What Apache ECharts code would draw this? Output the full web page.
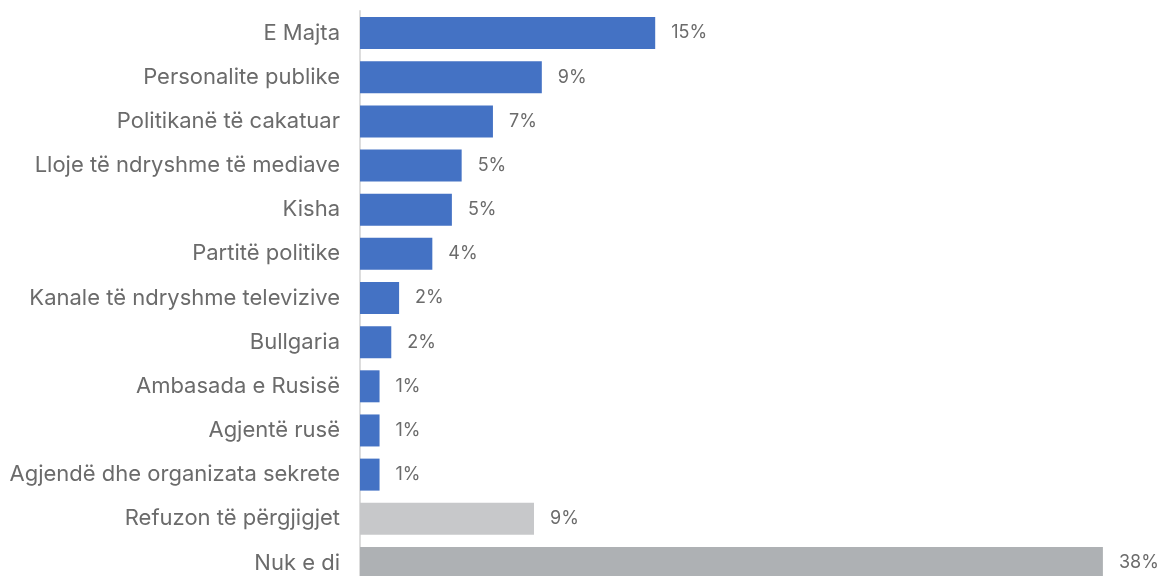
<!DOCTYPE html>
<html><head><meta charset="utf-8">
<script src="https://cdn.jsdelivr.net/npm/echarts@6/dist/echarts.min.js"></script>
<style>html,body{margin:0;padding:0;background:#fff}#c{width:1157px;height:576px}</style>
</head><body><div id="c"></div>
<script>
const categories = ["E Majta","Personalite publike","Politikanë të cakatuar","Lloje të ndryshme të mediave","Kisha","Partitë politike","Kanale të ndryshme televizive","Bullgaria","Ambasada e Rusisë","Agjentë rusë","Agjendë dhe organizata sekrete","Refuzon të përgjigjet","Nuk e di"];
const values = [15.1, 9.3, 6.8, 5.2, 4.7, 3.7, 2.0, 1.6, 1.0, 1.0, 1.0, 8.9, 38.0];
const barColors = ["#4472C4","#4472C4","#4472C4","#4472C4","#4472C4","#4472C4","#4472C4","#4472C4","#4472C4","#4472C4","#4472C4","#C7C8CA","#AEB1B4"];

const chart = echarts.init(document.getElementById('c'));
chart.setOption({
  animation: false,
  grid: {left: 360, width: 782, top: 11, height: 574, containLabel: false, outerBoundsMode: 'none'},
  xAxis: {type: 'value', min: 0, max: 40, show: false},
  yAxis: {
    type: 'category', data: categories, inverse: true,
    axisLine: {show: true, lineStyle: {color: '#DDDDDD', width: 2}},
    axisTick: {show: false},
    axisLabel: {color: '#6B6B6B', fontSize: 22, fontFamily: 'Inter', margin: 20}
  },
  series: [{
    type: 'bar', barWidth: 32,
    data: values.map((v, i) => ({value: v, itemStyle: {color: barColors[i]}})),
    label: {show: true, position: 'right', distance: 16, color: '#6B6B6B', fontSize: 18, fontFamily: 'Inter',
      formatter: p => Math.round(p.value) + '%'}
  }]
});
</script></body></html>
